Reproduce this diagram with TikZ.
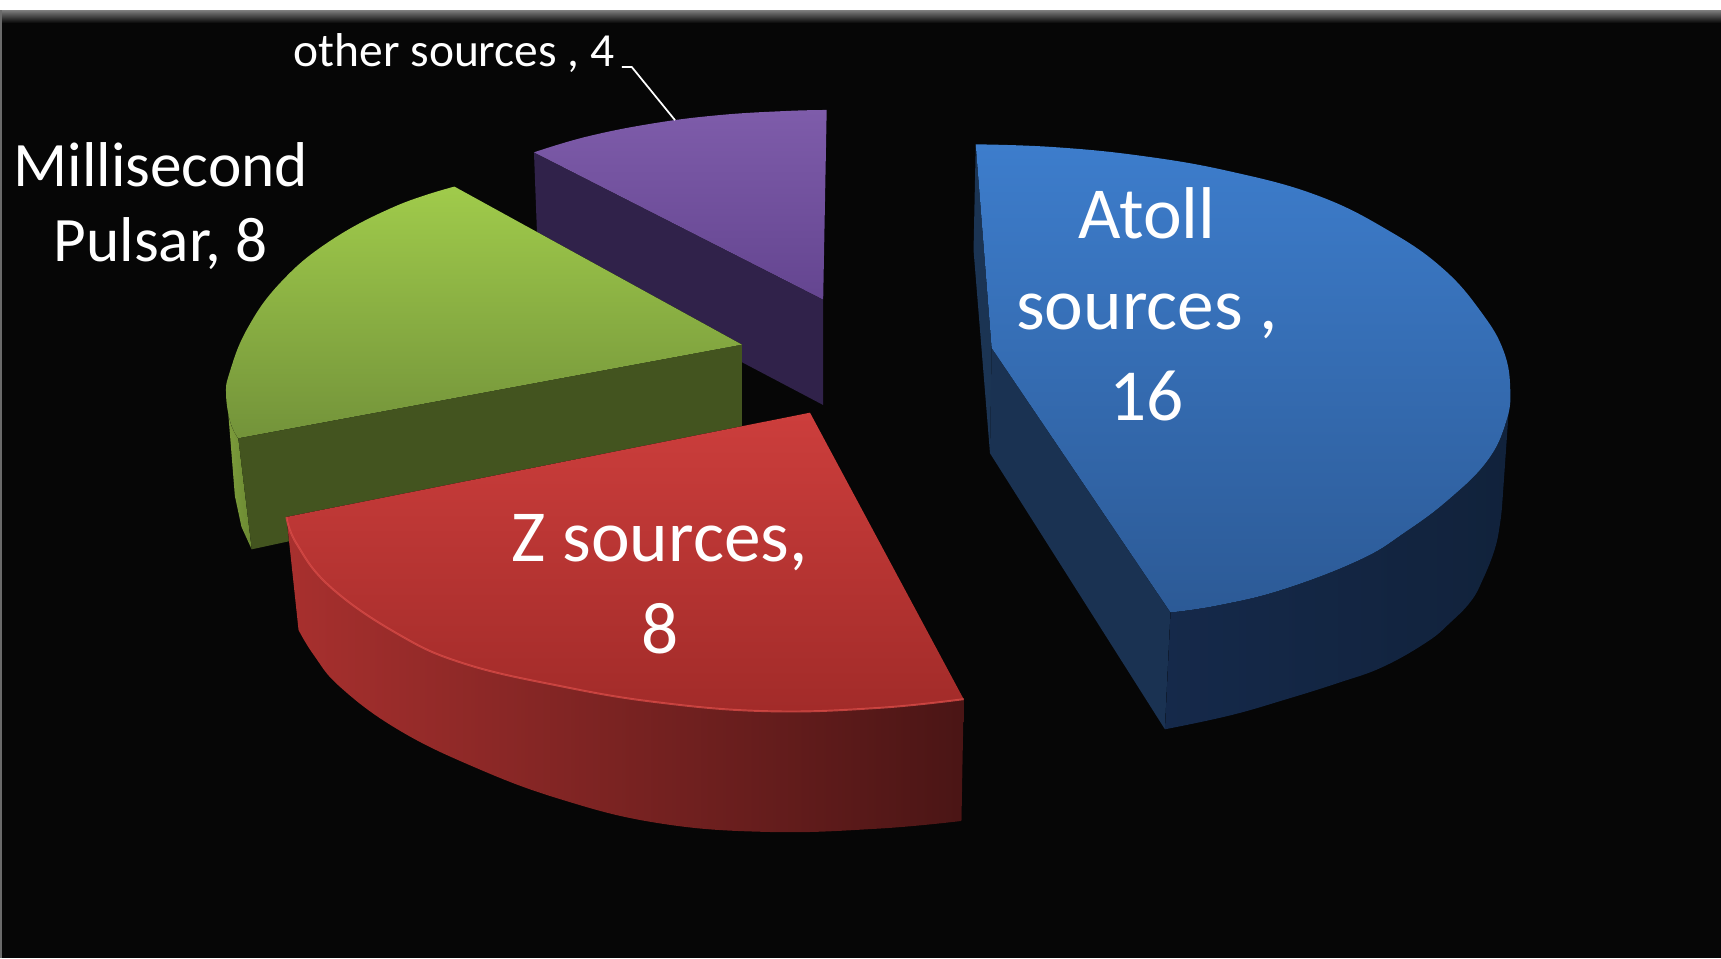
\documentclass[tikz,border=0pt]{standalone}
\usepackage{fontspec}
\setmainfont{Carlito}
\usetikzlibrary{calc}
\definecolor{bg}{HTML}{060606}
\definecolor{bandT}{HTML}{7A7A7A}
\definecolor{edgeL}{HTML}{6A6A6A}
\definecolor{purpT}{HTML}{7E5CAA}
\definecolor{purpB}{HTML}{644590}
\definecolor{purpS}{HTML}{30224A}
\definecolor{greenT}{HTML}{A0CB4B}
\definecolor{greenB}{HTML}{73933A}
\definecolor{greenF}{HTML}{43541F}
\definecolor{greenSL}{HTML}{7E9E3C}
\definecolor{greenSR}{HTML}{6A8832}
\definecolor{redT}{HTML}{CC3E3C}
\definecolor{redB}{HTML}{A22B29}
\definecolor{redSL}{HTML}{A8302E}
\definecolor{redSR}{HTML}{4A1515}
\definecolor{redHL}{HTML}{DA4C48}
\definecolor{blueT}{HTML}{3D7DCC}
\definecolor{blueB}{HTML}{2C5A96}
\definecolor{blueL}{HTML}{1B3453}
\definecolor{blueF}{HTML}{1A3252}
\definecolor{blueSL}{HTML}{15294A}
\definecolor{blueSR}{HTML}{11223B}
\begin{document}
\begin{tikzpicture}[x=0.01cm,y=-0.01cm,
  lbl/.style={text=white, inner sep=0pt, anchor=base},
  bigtxt/.style={lbl, font=\fontsize{19}{23.8}\selectfont},
  midtxt/.style={lbl, font=\fontsize{16.4}{19}\selectfont},
  smalltxt/.style={lbl, font=\fontsize{12.3}{15}\selectfont},
  arcs/.style={smooth, tension=0.7},
  leader/.style={draw=white, line width=0.45pt}]
% background and frame
\useasboundingbox (0,0) rectangle (1568,873);
\fill[bg] (0,0) rectangle (1568,873);
\fill[white] (0,0) rectangle (1568,9.5);
\shade[top color=bandT, bottom color=bg] (0,9.5) rectangle (1568,21);
\fill[edgeL] (0,9.5) rectangle (1.5,873);

% ---------------- purple slice (other sources)
\fill[purpS] (486.5,138.8) -- (750,273) -- (750,369) -- (490,232) -- cycle;
\fill[top color=purpT, bottom color=purpB] (750,273) --
  plot[arcs] coordinates {(486.5,138.8) (534.5,124.5) (595.2,112.4) (656,104.8) (716.7,101.1) (753.2,100.2)} -- cycle;

% ---------------- green slice (Millisecond Pulsar)
\fill[greenF] (217,399.3) -- (676,314) -- (676,404) -- (229.3,500.5) -- cycle;
\fill[left color=greenSL, right color=greenSR] (217,399.3) -- (211,388) -- (207,370) -- (206,352) -- (214,452) -- (220,480) -- (229.3,500.5) -- cycle;
\fill[top color=greenT, bottom color=greenB] (676,314) --
  plot[arcs] coordinates {(414,170) (360,188) (300,220) (255,258) (225,300) (209,340) (206,360) (210,385) (217,399.3)} -- cycle;

% ---------------- red slice (Z sources)
\fill[left color=redSL, right color=redSR]
  plot[arcs] coordinates {(878,637) (800,645) (700,648) (600,640) (510,625) (422,604.3) (361.4,577) (300.7,534.5) (270,495) (261,471)} --
  plot[arcs] coordinates {(272,574) (286,597) (310,626) (361.4,664) (430,698) (510,728) (600,750) (700,758) (800,755) (876,748)} -- cycle;
\fill[top color=redT, bottom color=redB] (738,376) --
  plot[arcs] coordinates {(261,471) (270,495) (300.7,534.5) (361.4,577) (422,604.3) (510,625) (600,640) (700,648) (800,645) (878,637)} -- cycle;
\draw[redHL, line width=0.5pt, opacity=0.8]
  plot[arcs] coordinates {(261,471) (270,495) (300.7,534.5) (361.4,577) (422,604.3) (510,625) (600,640) (700,648) (800,645) (878,637)};

% ---------------- blue slice (Atoll sources)
\fill[blueL] (889,131.5) -- (903.5,317) -- (902,413) -- (887,228) -- cycle;
\fill[blueF] (903.5,317) -- (1066.5,558) -- (1061.4,664.5) -- (902,413) -- cycle;
\fill[left color=blueSL, right color=blueSR]
  plot[arcs] coordinates {(1066.5,558) (1110,551.5) (1169,537) (1239,510) (1280,485) (1320,455) (1355,420) (1372,385) (1376,355)} --
  plot[arcs] coordinates {(1369,455) (1367,475) (1362,500) (1351,528) (1340,548) (1321,567.6) (1300,585) (1260,607.6) (1220,622) (1169,638) (1120,652) (1061.4,664.5)} -- cycle;
\fill[top color=blueT, bottom color=blueB] (903.5,317) --
  plot[arcs] coordinates {(889,131.5) (960,134) (1040,142) (1120,156) (1200,178) (1265,210) (1315,245) (1350,285) (1370,320) (1376,355) (1372,385) (1355,420) (1320,455) (1280,485) (1239,510) (1169,537) (1110,551.5) (1066.5,558)} -- cycle;

% ---------------- labels
\node[bigtxt] (atollA) at (1045,217) {Atoll};
\node[bigtxt] (atollB) at (1045,300) {sources ,};
\node[bigtxt] (atollC) at (1045,383) {16};
\node[bigtxt] (zA) at (601,512) {Z sources,};
\node[bigtxt] (zB) at (601,595) {8};
\node[midtxt] (msA) at (146.5,170) {Millisecond};
\node[midtxt] (msB) at (146.5,238) {Pulsar, 8};
\node[smalltxt] (other) at (413.7,61) {other sources , 4};
\coordinate (leadA) at ($(other.base east)+(6,0)$);
\coordinate (leadB) at ($(other.base east)+(15,0)$);
\coordinate (leadEnd) at (615,109.5);
\draw[leader] (leadA) -- (leadB) -- (leadEnd);
\end{tikzpicture}
\end{document}
